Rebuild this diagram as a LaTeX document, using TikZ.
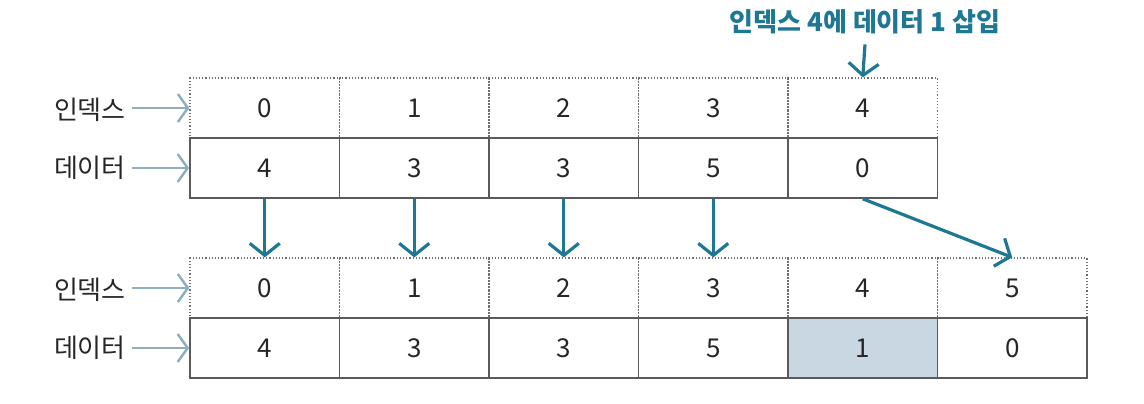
\documentclass[tikz,border=0pt]{standalone}
\usepackage{fontspec}
\setmainfont{Noto Sans CJK KR}
\usetikzlibrary{arrows.meta}
\definecolor{tealc}{HTML}{1E7893}
\definecolor{grayarr}{HTML}{8FAFC0}
\definecolor{linec}{HTML}{5A5A5A}
\definecolor{dotc}{HTML}{707070}
\definecolor{hl}{HTML}{C9D7E2}
\tikzset{
  idxcell/.style={draw=dotc, line width=1.2pt, dotted, minimum width=149.5pt, minimum height=60pt, inner sep=0pt, font=\fontsize{26}{28}\selectfont, text=black!85},
  datcell/.style={draw=linec, line width=1.6pt, minimum width=149.5pt, minimum height=60pt, inner sep=0pt, font=\fontsize{26}{28}\selectfont, text=black!85},
  rowlab/.style={anchor=east, font=\fontsize{26}{28}\selectfont, text=black!85, inner sep=0pt},
  labarrow/.style={draw=grayarr, line width=2.5pt, -{Straight Barb[length=10pt, width=28pt, line width=2.5pt]}},
  movearrow/.style={draw=tealc, line width=3.2pt, -{Straight Barb[length=12pt, width=30pt, line width=3.2pt]}},
}
\begin{document}
\begin{tikzpicture}[x=1pt, y=-1pt]
\useasboundingbox (0,0) rectangle (1144,404);
% top table
\foreach \k/\iv in {0/0, 1/1, 2/2, 3/3, 4/4} {
  \node[idxcell] (ti\k) at ({264.75+149.5*\k},108) {\iv};
}
\foreach \k/\dv in {0/4, 1/3, 2/3, 3/5, 4/0} {
  \node[datcell] (td\k) at ({264.75+149.5*\k},168) {\dv};
}
% bottom table
\foreach \k/\iv in {0/0, 1/1, 2/2, 3/3, 4/4, 5/5} {
  \node[idxcell] (bi\k) at ({264.75+149.5*\k},288) {\iv};
}
\foreach \k/\dv/\fc in {0/4/white, 1/3/white, 2/3/white, 3/5/white, 4/1/hl, 5/0/white} {
  \node[datcell, fill=\fc] (bd\k) at ({264.75+149.5*\k},348) {\dv};
}
% row labels
\node[rowlab] (tli) at (126,110) {인덱스};
\node[rowlab] (tld) at (126,168) {데이터};
\node[rowlab] (bli) at (126,290) {인덱스};
\node[rowlab] (bld) at (126,348) {데이터};
\draw[labarrow] ([xshift=6pt]tli.east |- ti0.west) -- (ti0.west);
\draw[labarrow] ([xshift=6pt]tld.east |- td0.west) -- (td0.west);
\draw[labarrow] ([xshift=6pt]bli.east |- bi0.west) -- (bi0.west);
\draw[labarrow] ([xshift=6pt]bld.east |- bd0.west) -- (bd0.west);
% title
\node[font=\bfseries\fontsize{26}{28}\selectfont, text=tealc, inner sep=0pt] (title) at (865,22) {인덱스 4에 데이터 1 삽입};
\draw[movearrow] ([yshift=-10pt]title.south) -- (ti4.north);
% move arrows
\foreach \k in {0,1,2,3} {
  \draw[movearrow] (td\k.south) -- (bi\k.north);
}
\draw[movearrow] (td4.south) -- (bi5.north);
\end{tikzpicture}
\end{document}
